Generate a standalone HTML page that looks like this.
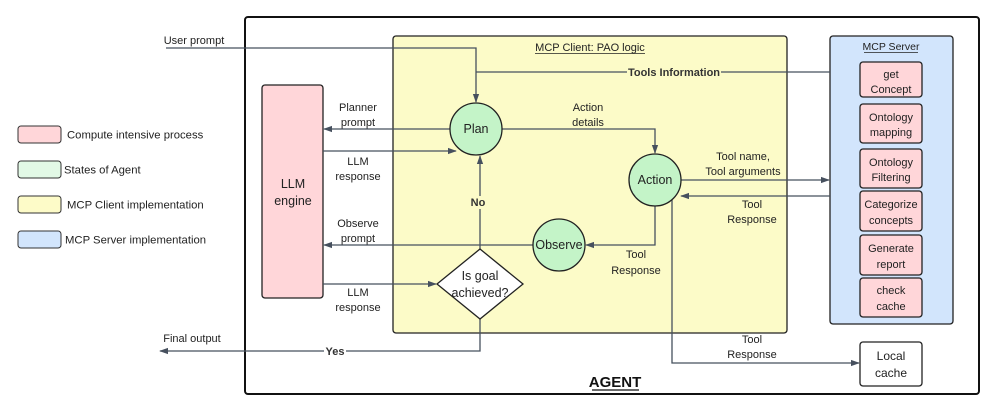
<!DOCTYPE html>
<html><head><meta charset="utf-8"><style>
html,body{margin:0;padding:0;background:#fff;}
svg{display:block;font-family:"Liberation Sans",sans-serif;}
</style></head><body>
<svg width="997" height="413" viewBox="0 0 997 413" xmlns="http://www.w3.org/2000/svg">
<defs>
<marker id="a" viewBox="0 0 10 10" refX="9" refY="5" markerWidth="7" markerHeight="7" orient="auto-start-reverse"><path d="M0,1.5 L10,5 L0,8.5 z" fill="#46505e"/></marker>
</defs>
<!-- legend -->
<g stroke="#333" stroke-width="1">
<rect x="18" y="126" width="43" height="17" rx="3" fill="#ffd6d9"/>
<rect x="18" y="161" width="43" height="17" rx="3" fill="#e2f9e6"/>
<rect x="18" y="196" width="43" height="17" rx="3" fill="#fdfbc8"/>
<rect x="18" y="231" width="43" height="17" rx="3" fill="#d2e5fc"/>
</g>
<g font-size="11.3" fill="#222">
<text x="67" y="138.5">Compute intensive process</text>
<text x="64" y="173.5">States of Agent</text>
<text x="67" y="208.5">MCP Client implementation</text>
<text x="65" y="243.5">MCP Server implementation</text>
</g>
<!-- agent -->
<rect x="245" y="17" width="734" height="377" rx="3" fill="#fff" stroke="#111" stroke-width="2"/>
<text x="615" y="387" font-size="15" font-weight="bold" text-anchor="middle" fill="#111">AGENT</text>
<line x1="592" y1="390" x2="639" y2="390" stroke="#111" stroke-width="1.3"/>
<!-- yellow -->
<rect x="393" y="36" width="394" height="297" rx="3" fill="#fcfbc8" stroke="#222" stroke-width="1.3"/>
<text x="590" y="51" font-size="11" text-anchor="middle" fill="#222">MCP Client: PAO logic</text>
<line x1="535" y1="53.5" x2="645" y2="53.5" stroke="#222" stroke-width="0.8"/>
<!-- blue -->
<rect x="830" y="36" width="123" height="288" rx="3" fill="#d2e5fc" stroke="#222" stroke-width="1.3"/>
<text x="891" y="50" font-size="10.5" text-anchor="middle" fill="#222">MCP Server</text>
<line x1="864" y1="52.5" x2="918" y2="52.5" stroke="#222" stroke-width="0.8"/>
<g stroke="#222" stroke-width="1.3" fill="#ffd6d9">
<rect x="860" y="62" width="62" height="35" rx="3"/>
<rect x="860" y="104" width="62" height="39" rx="3"/>
<rect x="860" y="149" width="62" height="39" rx="3"/>
<rect x="860" y="191" width="62" height="40" rx="3"/>
<rect x="860" y="235" width="62" height="40" rx="3"/>
<rect x="860" y="278" width="62" height="39" rx="3"/>
</g>
<g font-size="11" fill="#222" text-anchor="middle">
<text x="891" y="78">get</text><text x="891" y="93">Concept</text>
<text x="891" y="121">Ontology</text><text x="891" y="136">mapping</text>
<text x="891" y="166">Ontology</text><text x="891" y="181">Filtering</text>
<text x="891" y="208">Categorize</text><text x="891" y="224">concepts</text>
<text x="891" y="252">Generate</text><text x="891" y="268">report</text>
<text x="891" y="294">check</text><text x="891" y="310">cache</text>
</g>
<rect x="860" y="342" width="62" height="44" rx="3" fill="#fff" stroke="#222" stroke-width="1.3"/>
<text x="891" y="360" font-size="12" text-anchor="middle" fill="#222">Local</text>
<text x="891" y="377" font-size="12" text-anchor="middle" fill="#222">cache</text>
<!-- LLM -->
<rect x="262" y="85" width="61" height="213" rx="3" fill="#ffd6d9" stroke="#222" stroke-width="1.3"/>
<text x="293" y="188" font-size="12.5" text-anchor="middle" fill="#222">LLM</text>
<text x="293" y="205" font-size="12.5" text-anchor="middle" fill="#222">engine</text>
<!-- connectors -->
<g stroke="#46505e" stroke-width="1.3" fill="none" marker-end="url(#a)">
<path d="M166,48 H476 V102"/>
<path d="M450,129 H324"/>
<path d="M323,151 H456"/>
<path d="M502,129 H655 V153"/>
<path d="M681,180 H829"/>
<path d="M830,196 H681"/>
<path d="M655,206 V245 H586"/>
<path d="M533,245 H324"/>
<path d="M480,249 V156"/>
<path d="M323,284 H436"/>
<path d="M480,319 V351 H160"/>
<path d="M672,200 V363 H859"/>
</g>
<path d="M830,72 H476" stroke="#46505e" stroke-width="1.3" fill="none"/>
<!-- circles -->
<g stroke="#222" stroke-width="1.3" fill="#c4f4c8">
<circle cx="476" cy="129" r="26"/>
<circle cx="655" cy="180" r="26"/>
<circle cx="559" cy="245" r="26"/>
</g>
<g font-size="12.5" fill="#222" text-anchor="middle">
<text x="476" y="133">Plan</text>
<text x="655" y="184">Action</text>
<text x="559" y="249">Observe</text>
</g>
<path d="M480,249 L523,284 L480,319 L437,284 Z" fill="#fff" stroke="#222" stroke-width="1.3"/>
<text x="480" y="280" font-size="12.5" text-anchor="middle" fill="#222">Is goal</text>
<text x="480" y="297" font-size="12.5" text-anchor="middle" fill="#222">achieved?</text>
<!-- labels -->
<g font-size="11" fill="#222" text-anchor="middle">
<text x="194" y="44">User prompt</text>
<text x="192" y="342">Final output</text>
<text x="358" y="111">Planner</text><text x="358" y="126">prompt</text>
<text x="358" y="165">LLM</text><text x="358" y="180">response</text>
<text x="358" y="227">Observe</text><text x="358" y="242">prompt</text>
<text x="358" y="296">LLM</text><text x="358" y="311">response</text>
<text x="588" y="111">Action</text><text x="588" y="126">details</text>
<text x="743" y="160">Tool name,</text><text x="743" y="175">Tool arguments</text>
<text x="752" y="208">Tool</text><text x="752" y="223">Response</text>
<text x="636" y="258">Tool</text><text x="636" y="274">Response</text>
<text x="752" y="343">Tool</text><text x="752" y="358">Response</text>
</g>
<g font-size="11" font-weight="bold" fill="#333" text-anchor="middle">
<rect x="627" y="65" width="94" height="14" fill="#fcfbc8"/>
<text x="674" y="76">Tools Information</text>
<rect x="470" y="196" width="20" height="13" fill="#fcfbc8"/>
<text x="478" y="206">No</text>
<rect x="324" y="345" width="22" height="12" fill="#fff"/>
<text x="335" y="355">Yes</text>
</g>
</svg>
</body></html>
